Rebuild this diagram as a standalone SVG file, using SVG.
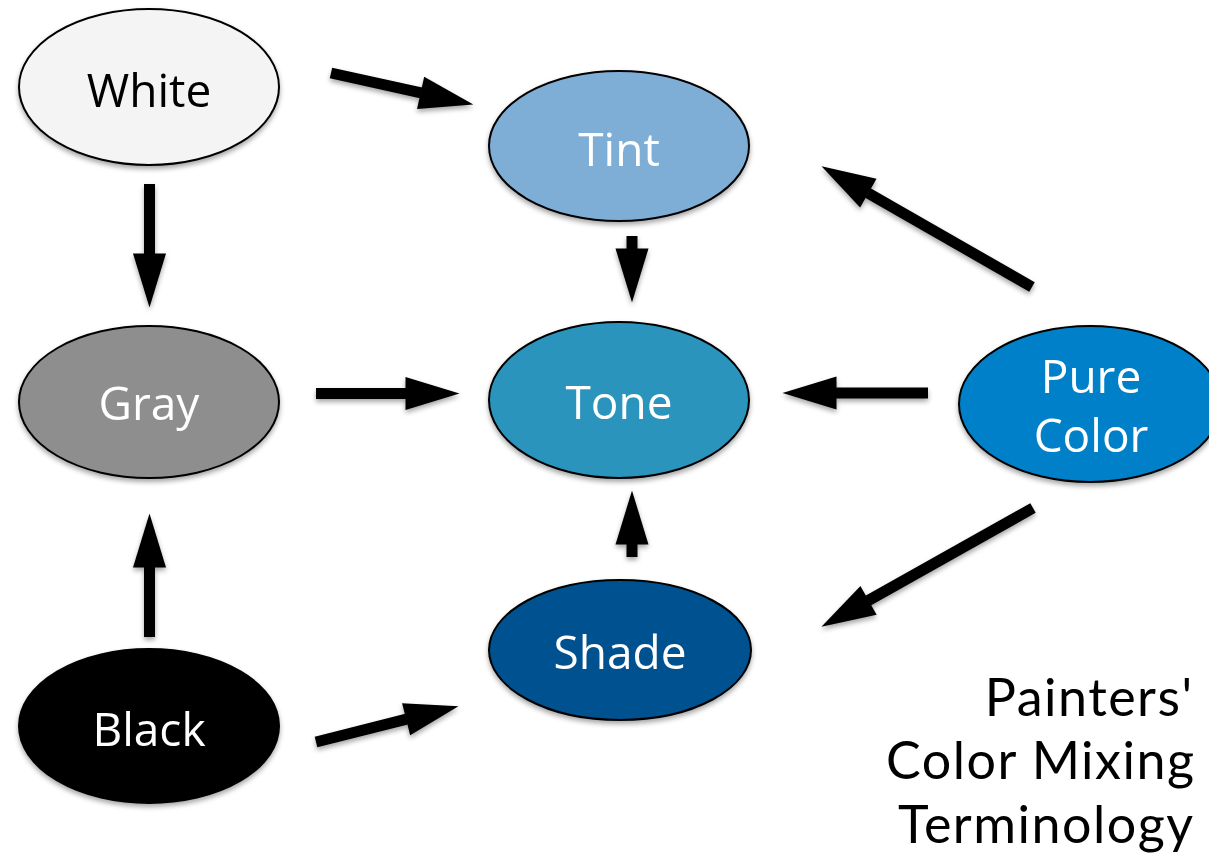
<svg xmlns="http://www.w3.org/2000/svg" width="1209" height="862" viewBox="0 0 1209 862">
<style>
.node ellipse{stroke:#000;stroke-width:2}
.lbl{font-family:"Open Sans","Noto Sans",sans-serif;font-size:46px;text-anchor:middle;fill:#fff}
.dark{fill:#000}
.title{font-family:Lato,"Open Sans",sans-serif;font-size:52px;letter-spacing:1.5px;text-anchor:end;fill:#000}
.conn line{stroke:#000;stroke-width:11;marker-end:url(#ah)}
</style>
<defs>
<filter id="sh" x="-20%" y="-20%" width="140%" height="150%">
<feDropShadow dx="0" dy="3" stdDeviation="2.5" flood-color="#000" flood-opacity="0.35"/>
</filter>
<marker id="ah" markerUnits="userSpaceOnUse" markerWidth="56" markerHeight="34" refX="0.5" refY="16.5" orient="auto" overflow="visible">
<path d="M0,0 L54,16.5 L0,33 Z" fill="#000"/>
</marker>
</defs>
<rect width="1209" height="862" fill="#fff"/>
<g id="connectors" class="conn" filter="url(#sh)">
<line x1="331" y1="73" x2="421.1" y2="92.9"/>
<line x1="149.5" y1="184" x2="149.5" y2="254"/>
<line x1="632" y1="236" x2="632" y2="249"/>
<line x1="1032" y1="287" x2="867.9" y2="192.9"/>
<line x1="316" y1="393.5" x2="406" y2="393.5"/>
<line x1="928" y1="393" x2="836" y2="393"/>
<line x1="632" y1="557" x2="632" y2="544"/>
<line x1="149.5" y1="637" x2="149.5" y2="567"/>
<line x1="316" y1="742" x2="406.6" y2="719.2"/>
<line x1="1033" y1="508" x2="868.1" y2="600.6"/>
</g>
<g id="white" class="node" filter="url(#sh)"><ellipse cx="149" cy="87" rx="130" ry="78" fill="#f4f4f4"/><text class="lbl dark" x="149" y="107">White</text></g>
<g id="tint" class="node" filter="url(#sh)"><ellipse cx="619" cy="146" rx="130" ry="75" fill="#7eaed6"/><text class="lbl" x="619" y="166">Tint</text></g>
<g id="gray" class="node" filter="url(#sh)"><ellipse cx="149" cy="402" rx="130" ry="76" fill="#8e8e8e"/><text class="lbl" x="149" y="420">Gray</text></g>
<g id="tone" class="node" filter="url(#sh)"><ellipse cx="619" cy="400" rx="130" ry="78" fill="#2b94bd"/><text class="lbl" x="619" y="419">Tone</text></g>
<g id="pure" class="node" filter="url(#sh)"><ellipse cx="1090" cy="404" rx="131" ry="78" fill="#0080c8"/><text class="lbl" x="1091" y="393">Pure</text><text class="lbl" x="1091" y="452">Color</text></g>
<g id="shade" class="node" filter="url(#sh)"><ellipse cx="620" cy="650" rx="131" ry="70" fill="#04518f"/><text class="lbl" x="620" y="669">Shade</text></g>
<g id="black" class="node" filter="url(#sh)"><ellipse cx="149" cy="726" rx="130" ry="77" fill="#000"/><text class="lbl" x="149" y="746">Black</text></g>
<g id="title"><text class="title" x="1193.5" y="716">Painters'</text><text class="title" x="1195.5" y="779">Color Mixing</text><text class="title" x="1194.5" y="843">Terminology</text></g>
</svg>
